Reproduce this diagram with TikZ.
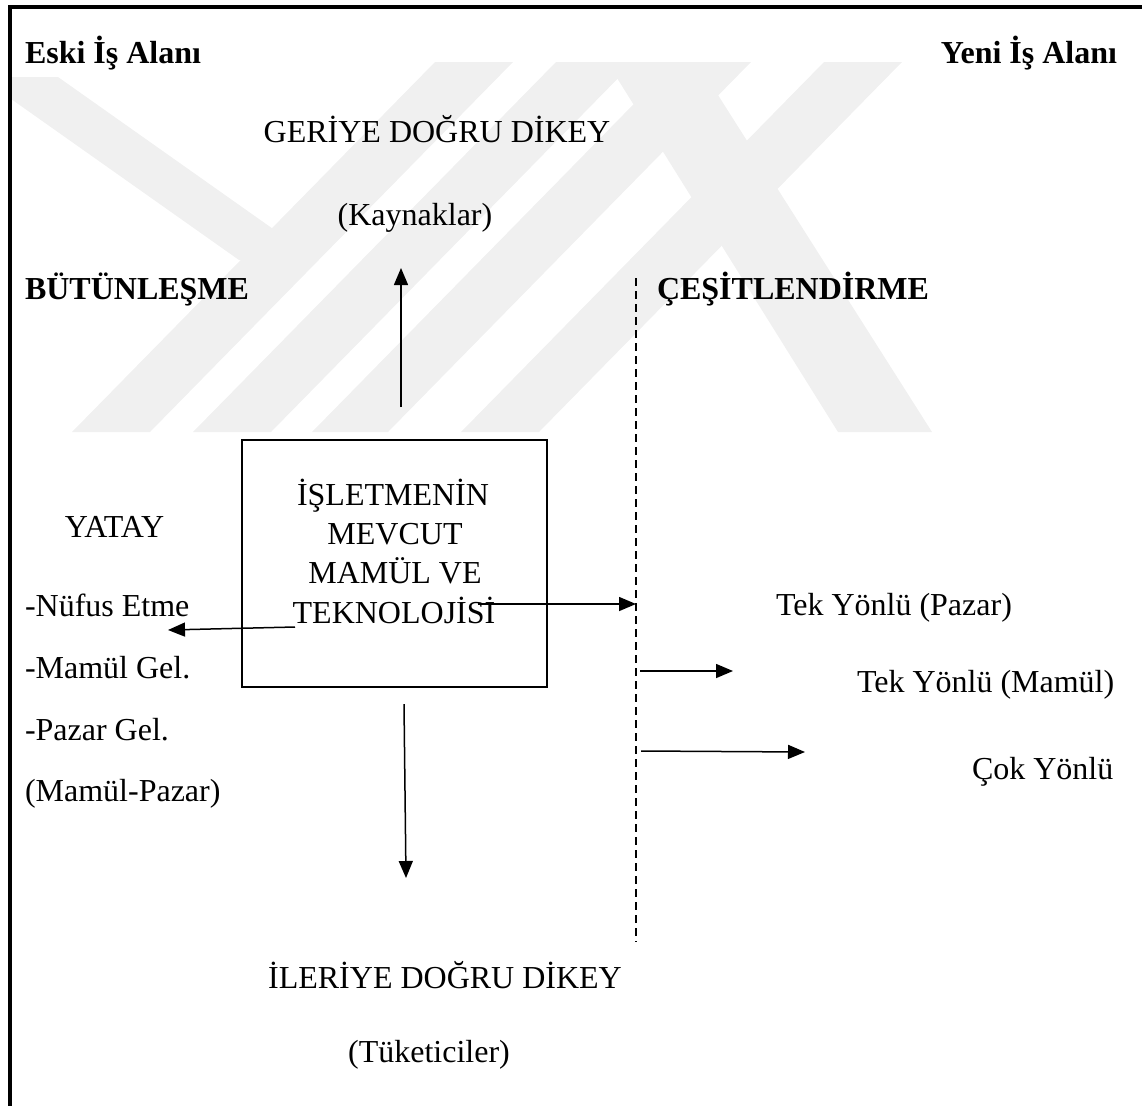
\documentclass[tikz,border=0pt]{standalone}
\usepackage{fontspec}
\setmainfont{Liberation Serif}
\usetikzlibrary{arrows.meta}

\begin{document}
\begin{tikzpicture}[x=1bp,y=-1bp,
  every node/.style={inner sep=0pt, outer sep=0pt, font=\fontsize{32bp}{39bp}\selectfont},
  head/.style={font=\fontsize{32bp}{39bp}\selectfont\bfseries},
  link/.style={line width=1.5bp, -{Triangle[length=17bp,width=14bp]}},
  divider/.style={line width=1.5bp, dash pattern=on 8bp off 5bp},
  band/.style={fill=black!6, draw=none}]
\useasboundingbox (0,0) rectangle (1142,1106);

% faint logo in the background
\begin{scope}
  \clip (12,62) rectangle (1142,432);
  \fill[band] (-20,77) -- (58,77) -- (317,260) -- (239,260) -- cycle;
  \fill[band] (72,432) -- (150,432) -- (513,62) -- (435,62) -- cycle;
  \fill[band] (193,432) -- (271,432) -- (634,62) -- (556,62) -- cycle;
  \fill[band] (312,432) -- (388,432) -- (751,62) -- (675,62) -- cycle;
  \fill[band] (461,432) -- (539,432) -- (902,62) -- (824,62) -- cycle;
  \fill[band] (607,62) -- (697,62) -- (932,432) -- (838,432) -- cycle;
\end{scope}

% frame
\coordinate (fA) at (10,1112);
\coordinate (fB) at (10,7);
\coordinate (fC) at (1148,7);
\draw[line width=3.3bp] (fA) -- (fB) -- (fC);

% headings
\node[head, anchor=base west] (old) at (25,63) {Eski İş Alanı};
\node[head, anchor=base east] (new) at (1117,63) {Yeni İş Alanı};
\node[head, anchor=base west] (integ) at (25,299) {BÜTÜNLEŞME};
\node[head, anchor=base west] (divers) at (657,299) {ÇEŞİTLENDİRME};

% vertical integration labels
\node[anchor=base] (back) at (437,142) {GERİYE DOĞRU DİKEY};
\node[anchor=base] (sources) at (415,225) {(Kaynaklar)};
\node[anchor=base] (fwd) at (445,988) {İLERİYE DOĞRU DİKEY};
\node[anchor=base] (cons) at (429,1062) {(Tüketiciler)};

% central box
\node[draw, line width=2.5bp, minimum width=305bp, minimum height=247bp] (core) at (394.5,563.5) {};
\node[anchor=base] (c1) at (393,505) {İŞLETMENİN};
\node[anchor=base] (c2) at (395,544) {MEVCUT};
\node[anchor=base] (c3) at (395,583) {MAMÜL VE};
\node[anchor=base] (c4) at (394,623) {TEKNOLOJİSİ};

% horizontal integration
\node[anchor=base] (yatay) at (114.5,537) {YATAY};
\node[anchor=base west] (pen) at (25,616) {-Nüfus Etme};
\node[anchor=base west] (prod) at (25,678) {-Mamül Gel.};
\node[anchor=base west] (mkt) at (25,740) {-Pazar Gel.};
\node[anchor=base west] (pm) at (25,801) {(Mamül-Pazar)};

% diversification
\node[anchor=base west] (t1) at (776,615) {Tek Yönlü (Pazar)};
\node[anchor=base west] (t2) at (857,692) {Tek Yönlü (Mamül)};
\node[anchor=base west] (t3) at (972,779) {Çok Yönlü};

% connector ends
\coordinate (upS) at (401,407);
\coordinate (upE) at (401,268);
\coordinate (dnS) at (404,704);
\coordinate (dnE) at (406,878);
\coordinate (ltS) at (295,627);
\coordinate (ltE) at (168,630);
\coordinate (rtS) at (478,604);
\coordinate (rtE) at (636,604);
\coordinate (dTop) at (636,278);
\coordinate (dBot) at (636,942);
\coordinate (m1S) at (640,671);
\coordinate (m1E) at (733,671);
\coordinate (m2S) at (641,751);
\coordinate (m2E) at (805,752);

\draw[divider] (dTop) -- (dBot);
\draw[link] (upS) -- (upE);
\draw[link] (dnS) -- (dnE);
\draw[link] (ltS) -- (ltE);
\draw[link] (rtS) -- (rtE);
\draw[link] (m1S) -- (m1E);
\draw[link] (m2S) -- (m2E);
\end{tikzpicture}
\end{document}
